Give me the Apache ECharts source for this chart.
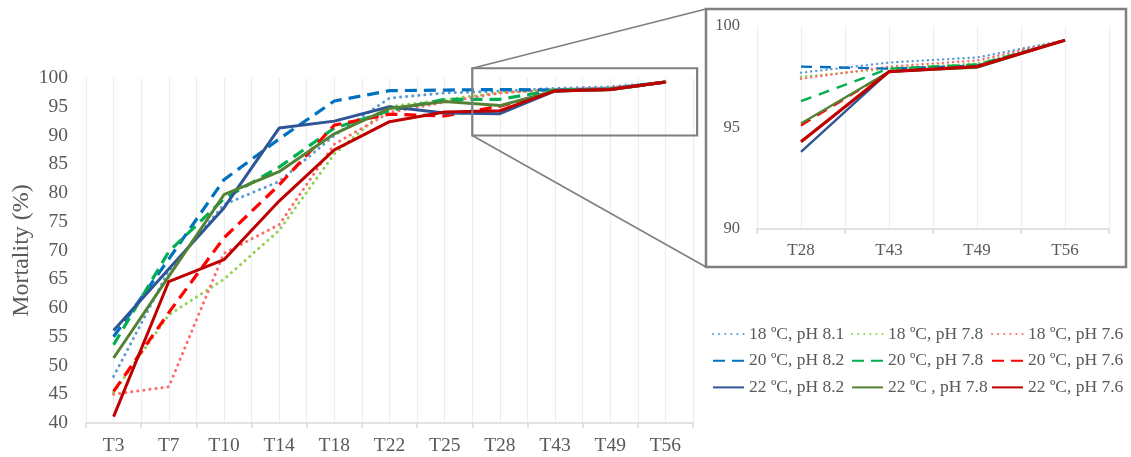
<!DOCTYPE html>
<html>
<head>
<meta charset="utf-8">
<script src="https://cdn.jsdelivr.net/npm/echarts@6/dist/echarts.min.js"></script>
<style>
  html, body { margin: 0; padding: 0; background: #ffffff; }
  #chart { width: 1131px; height: 457px; }
</style>
</head>
<body>
<div id="chart"></div>
<script>
// Sampling days
const categories = ['T3', 'T7', 'T10', 'T14', 'T18', 'T22', 'T25', 'T28', 'T43', 'T49', 'T56'];
// Days shown in the enlarged panel
const zoomCategories = ['T28', 'T43', 'T49', 'T56'];

// Cumulative mortality (%) per treatment
const t18ph81 = [48.1, 66.5, 78.0, 82.0, 90.0, 96.5, 97.4, 97.7, 98.2, 98.45, 99.3];
const t18ph78 = [45.3, 58.8, 65.0, 73.5, 86.8, 95.0, 96.2, 97.5, 97.9, 98.15, 99.3];
const t18ph76 = [45.0, 46.3, 69.5, 74.5, 88.5, 94.0, 95.8, 97.4, 98.0, 98.3, 99.3];
const t20ph82 = [55.0, 68.5, 82.3, 89.4, 96.0, 97.8, 97.9, 98.0, 97.9, 98.05, 99.3];
const t20ph78 = [53.6, 69.8, 79.0, 84.5, 91.3, 94.3, 96.3, 96.3, 97.9, 98.1, 99.3];
const t20ph76 = [45.5, 59.2, 72.2, 81.4, 91.8, 93.7, 93.4, 95.1, 97.75, 98.0, 99.3];
const t22ph82 = [56.1, 66.8, 77.4, 91.3, 92.5, 95.0, 93.9, 93.8, 97.75, 98.0, 99.3];
const t22ph78 = [51.3, 65.5, 79.7, 83.7, 90.3, 94.7, 95.9, 95.2, 97.75, 97.95, 99.3];
const t22ph76 = [41.1, 64.6, 68.4, 78.6, 87.5, 92.4, 94.1, 94.3, 97.75, 98.0, 99.3];

// Axis ticks
const mainTicks = { min: 40, max: 100, interval: 5 };
const zoomTicks = { min: 90, max: 100, interval: 5 };

const FONT = 'Liberation Serif';
const TEXT = '#595959';
const AXIS = '#d9d9d9';
const GRIDLINE = '#ededed';

const treatments = [
  { name: '18 ºC, pH 8.1', data: t18ph81, color: '#5b9bd5', style: 'dot' },
  { name: '18 ºC, pH 7.8', data: t18ph78, color: '#92d050', style: 'dot' },
  { name: '18 ºC, pH 7.6', data: t18ph76, color: '#ff6a6a', style: 'dot' },
  { name: '20 ºC, pH 8.2', data: t20ph82, color: '#0070c0', style: 'dash' },
  { name: '20 ºC, pH 7.8', data: t20ph78, color: '#00b050', style: 'dash' },
  { name: '20 ºC, pH 7.6', data: t20ph76, color: '#ff0000', style: 'dash' },
  { name: '22 ºC, pH 8.2', data: t22ph82, color: '#2f5597', style: 'solid' },
  { name: '22 ºC , pH 7.8', data: t22ph78, color: '#548235', style: 'solid' },
  { name: '22 ºC, pH 7.6', data: t22ph76, color: '#c00000', style: 'solid' }
];

function lineStyleFor(t, small) {
  if (t.style === 'dot') {
    return { color: t.color, width: small ? 2.4 : 3, type: small ? [0.1, 5] : [0.1, 6], cap: 'round' };
  }
  if (t.style === 'dash') {
    return { color: t.color, width: small ? 2.4 : 3.2, type: small ? [11, 8] : [12, 7] };
  }
  return { color: t.color, width: small ? 2.4 : 3 };
}

const series = [];
treatments.forEach(function (t) {
  series.push({
    name: t.name, type: 'line', xAxisIndex: 0, yAxisIndex: 0,
    data: t.data, symbol: 'none', smooth: false,
    color: t.color, lineStyle: lineStyleFor(t, false), animation: false
  });
});
const firstZoom = categories.indexOf(zoomCategories[0]);
treatments.forEach(function (t) {
  const ls = lineStyleFor(t, true);
  if (t.name === '22 ºC, pH 7.6') ls.width = 3.2;
  series.push({
    name: t.name, type: 'line', xAxisIndex: 2, yAxisIndex: 1,
    data: t.data.slice(firstZoom), symbol: 'none', smooth: false,
    color: t.color, lineStyle: ls, animation: false
  });
});

function legendCol(left, names) {
  return {
    orient: 'vertical', left: left, top: 325, padding: 0,
    itemWidth: 31, itemHeight: 14, itemGap: 8.7,
    itemStyle: { opacity: 0 },
    textStyle: { fontFamily: FONT, fontSize: 17.5, color: TEXT, lineHeight: 18 },
    data: names, selectedMode: false
  };
}

const mainCatAxis = {
  type: 'category', gridIndex: 0, data: categories, boundaryGap: true,
  axisLine: { lineStyle: { color: AXIS, width: 1.5 } },
  axisTick: { show: true, length: 5, lineStyle: { color: AXIS, width: 1.5 } },
  axisLabel: { fontFamily: FONT, fontSize: 19.5, color: TEXT, margin: 13 },
  splitLine: { show: false }
};
const mainGridAxis = {
  type: 'value', gridIndex: 0, min: 0, max: categories.length * 2, interval: 1,
  axisLine: { show: false }, axisTick: { show: false }, axisLabel: { show: false },
  splitLine: { show: true, lineStyle: { color: GRIDLINE, width: 1.2 } }, z: 0
};
const zoomCatAxis = {
  type: 'category', gridIndex: 1, data: zoomCategories, boundaryGap: true,
  axisLine: { lineStyle: { color: AXIS, width: 1.5 } },
  axisTick: { show: true, length: 5, lineStyle: { color: AXIS, width: 1.5 } },
  axisLabel: { fontFamily: FONT, fontSize: 17, color: TEXT, margin: 13 },
  splitLine: { show: false }
};
const zoomGridAxis = {
  type: 'value', gridIndex: 1, min: 0, max: zoomCategories.length * 2, interval: 1,
  axisLine: { show: false }, axisTick: { show: false }, axisLabel: { show: false },
  splitLine: { show: true, lineStyle: { color: GRIDLINE, width: 1.2 } }, z: 0
};

const option = {
  backgroundColor: '#ffffff',
  animation: false,
  grid: [
    { left: 86, right: 438, top: 78, bottom: 34, containLabel: false, outerBoundsMode: 'none' },
    { left: 757, right: 22, top: 26, bottom: 228, containLabel: false, outerBoundsMode: 'none' }
  ],
  xAxis: [mainCatAxis, mainGridAxis, zoomCatAxis, zoomGridAxis],
  yAxis: [
    {
      type: 'value', gridIndex: 0, min: mainTicks.min, max: mainTicks.max, interval: mainTicks.interval,
      name: 'Mortality (%)', nameLocation: 'middle', nameGap: 52, nameRotate: 90,
      nameMoveOverlap: false,
      nameTextStyle: { fontFamily: FONT, fontSize: 24, color: TEXT },
      axisLine: { show: false }, axisTick: { show: false },
      axisLabel: { fontFamily: FONT, fontSize: 19.5, color: TEXT, margin: 18 },
      splitLine: { show: false }
    },
    {
      type: 'value', gridIndex: 1, min: zoomTicks.min, max: zoomTicks.max, interval: zoomTicks.interval,
      axisLine: { show: false }, axisTick: { show: false },
      axisLabel: { fontFamily: FONT, fontSize: 16.5, color: TEXT, margin: 17 },
      splitLine: { show: false }
    }
  ],
  legend: [
    legendCol(712, [treatments[0].name, treatments[3].name, treatments[6].name]),
    legendCol(851, [treatments[1].name, treatments[4].name, treatments[7].name]),
    legendCol(991, [treatments[2].name, treatments[5].name, treatments[8].name])
  ],
  series: series
};

const chart = echarts.init(document.getElementById('chart'), null, { renderer: 'canvas' });
chart.setOption(option);

// Highlight box on the main plot (late sampling days, 90–100 %) and its callout frame
const boxStart = firstZoom * 2;
const tl = chart.convertToPixel({ xAxisIndex: 1, yAxisIndex: 0 }, [boxStart, 101.7]);
const br = chart.convertToPixel({ xAxisIndex: 1, yAxisIndex: 0 }, [categories.length * 2 + 0.15, 90]);
const frame = { x: 706, y: 9, w: 420, h: 258 };
const GREY = '#7f7f7f';

chart.setOption({
  graphic: [
    {
      type: 'rect', z: 100,
      shape: { x: tl[0], y: tl[1], width: br[0] - tl[0], height: br[1] - tl[1] },
      style: { fill: null, stroke: GREY, lineWidth: 2.2 }
    },
    {
      type: 'rect', z: 100,
      shape: { x: frame.x, y: frame.y, width: frame.w, height: frame.h },
      style: { fill: null, stroke: GREY, lineWidth: 2.5 }
    },
    {
      type: 'line', z: 100,
      shape: { x1: tl[0], y1: tl[1], x2: frame.x, y2: frame.y },
      style: { stroke: GREY, lineWidth: 1.6 }
    },
    {
      type: 'line', z: 100,
      shape: { x1: tl[0], y1: br[1], x2: frame.x, y2: frame.y + frame.h },
      style: { stroke: GREY, lineWidth: 1.6 }
    }
  ]
});
</script>
</body>
</html>
